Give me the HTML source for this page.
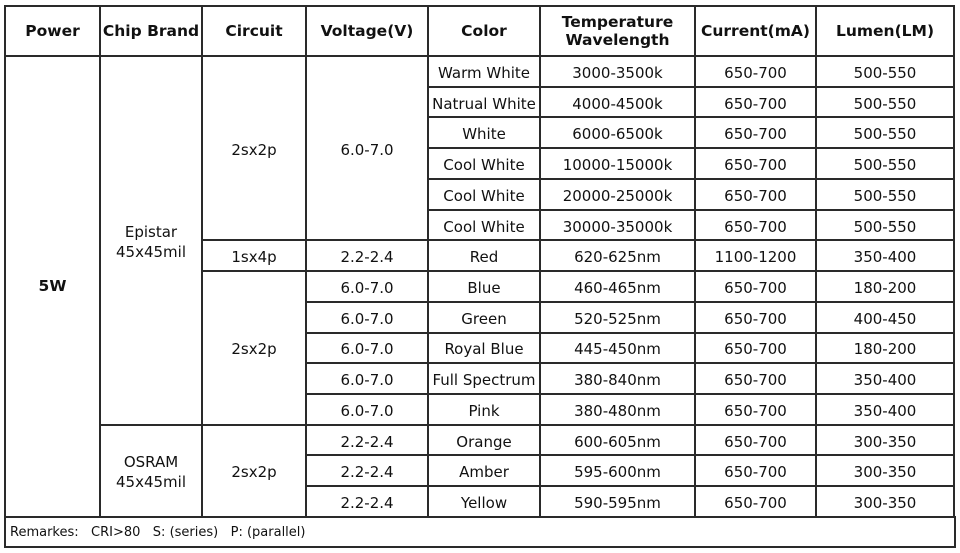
<!DOCTYPE html>
<html><head><meta charset="utf-8">
<style>
html,body{margin:0;padding:0;background:#fff;width:960px;height:553px;overflow:hidden}
#t{position:relative;width:960px;height:553px;font-family:"DejaVu Sans","Liberation Sans",sans-serif;color:#111}
.c{position:absolute;box-sizing:border-box;border:2px solid #2a2a2a;display:flex;align-items:center;justify-content:center;text-align:center;font-size:15px;line-height:20px;padding-top:3px}
.h{font-weight:bold;font-size:15.5px;line-height:18px;padding-top:0}
</style></head>
<body>
<div id="t"></div>
<script>
const colX=[5,100,202,306,428,540,695,816,954];
const top0=6, headB=56, rowH=30.73;
const headers=["Power","Chip Brand","Circuit","Voltage(V)","Color","Temperature<br>Wavelength","Current(mA)","Lumen(LM)"];
const colors=["Warm White","Natrual White","White","Cool White","Cool White","Cool White","Red","Blue","Green","Royal Blue","Full Spectrum","Pink","Orange","Amber","Yellow"];
const temps=["3000-3500k","4000-4500k","6000-6500k","10000-15000k","20000-25000k","30000-35000k","620-625nm","460-465nm","520-525nm","445-450nm","380-840nm","380-480nm","600-605nm","595-600nm","590-595nm"];
const currents=["650-700","650-700","650-700","650-700","650-700","650-700","1100-1200","650-700","650-700","650-700","650-700","650-700","650-700","650-700","650-700"];
const lumens=["500-550","500-550","500-550","500-550","500-550","500-550","350-400","180-200","400-450","180-200","350-400","350-400","300-350","300-350","300-350"];
const t=document.getElementById('t');
function ry(i){return headB+i*rowH;}
function cell(c0,c1,y0,y1,html,cls,name){
  const d=document.createElement('div');
  d.className='c'+(cls?' '+cls:'');
  d.style.left=(colX[c0]-1)+'px';d.style.width=(colX[c1]-colX[c0]+2)+'px';
  d.style.top=(y0-1)+'px';d.style.height=(y1-y0+2)+'px';
  d.innerHTML=html;
  
  
  t.appendChild(d);
}
headers.forEach((h,i)=>cell(i,i+1,top0,headB,h,'h','header-'+i));
cell(0,1,ry(0),ry(15),'5W','h','power-cell');
cell(1,2,ry(0),ry(12),'Epistar<br>45x45mil','','chip-epistar');
cell(1,2,ry(12),ry(15),'OSRAM<br>45x45mil','','chip-osram');
cell(2,3,ry(0),ry(6),'2sx2p','','circuit-group-1');
cell(2,3,ry(6),ry(7),'1sx4p','','circuit-group-2');
cell(2,3,ry(7),ry(12),'2sx2p','','circuit-group-3');
cell(2,3,ry(12),ry(15),'2sx2p','','circuit-group-4');
cell(3,4,ry(0),ry(6),'6.0-7.0','','voltage-group-1');
cell(3,4,ry(6),ry(7),'2.2-2.4','','voltage-red');
for(let i=7;i<12;i++)cell(3,4,ry(i),ry(i+1),'6.0-7.0','','voltage-row-'+i);
for(let i=12;i<15;i++)cell(3,4,ry(i),ry(i+1),'2.2-2.4','','voltage-row-'+i);
for(let i=0;i<15;i++){
  cell(4,5,ry(i),ry(i+1),colors[i],'','color-row-'+i);
  cell(5,6,ry(i),ry(i+1),temps[i],'','temp-row-'+i);
  cell(6,7,ry(i),ry(i+1),currents[i],'','current-row-'+i);
  cell(7,8,ry(i),ry(i+1),lumens[i],'','lumen-row-'+i);
}
const r=document.createElement('div');
r.className='c';
r.style.left='4px';r.style.width='952px';r.style.top=(ry(15)-1)+'px';r.style.height=(549-ry(15))+'px';
r.style.justifyContent='flex-start';r.style.paddingLeft='4px';r.style.fontSize='13px';
r.innerHTML='Remarkes:&nbsp;&nbsp;&nbsp;CRI&gt;80&nbsp;&nbsp;&nbsp;S: (series)&nbsp;&nbsp;&nbsp;P: (parallel)';


t.appendChild(r);
</script>
</body></html>
